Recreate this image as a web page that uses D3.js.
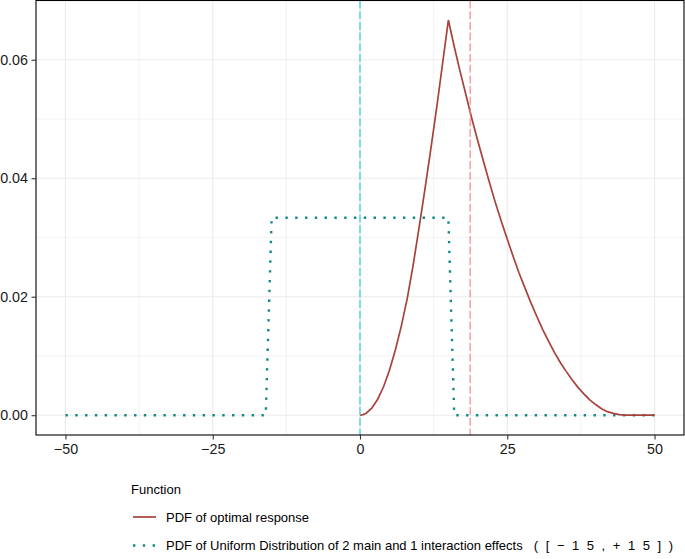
<!DOCTYPE html>
<html>
<head>
<meta charset="utf-8">
<script src="https://cdn.jsdelivr.net/npm/d3@7"></script>
<style>
  body { margin: 0; background: #fff; }
  text { font-family: "Liberation Sans", Arial, sans-serif; }
</style>
</head>
<body>
<div id="chart"></div>
<script>
// PDF of optimal response
var responseX = [0, 0.5, 1, 2, 3, 4, 5, 6, 7, 8, 9, 10, 11, 12, 13, 14, 15,
  16, 17, 18, 19, 20, 21, 22, 23, 24, 25, 26, 27, 28, 29, 30, 31, 32, 33, 34,
  35, 36, 37, 38, 39, 40, 41, 42, 43, 44, 45, 50];
var responseY = [0, 0.0001, 0.0003, 0.0012, 0.0027, 0.0048, 0.0076, 0.011, 0.015,
  0.0196, 0.0252, 0.0315, 0.038, 0.0448, 0.0518, 0.0592, 0.0667,
  0.0622, 0.058, 0.054, 0.050, 0.0463, 0.0427, 0.0392, 0.0358, 0.0327, 0.0297,
  0.0268, 0.0240, 0.0215, 0.0190, 0.0167, 0.0145, 0.0125, 0.0106, 0.0089,
  0.0074, 0.0060, 0.0047, 0.0036, 0.0026, 0.0018, 0.0011, 0.0006, 0.0003,
  0.0001, 0, 0];

// uniform pdf on [-15, 15]
var uniformX = [-50, -16, -15, 15, 16, 50];
var uniformY = [0, 0, 1 / 30, 1 / 30, 0, 0];

var vlines = [0, 18.7];
var xTicks = [-50, -25, 0, 25, 50];
var yTicks = [0, 0.02, 0.04, 0.06];
var legendLabels = [["PDF of optimal response", ""],
  ["PDF of Uniform Distribution of 2 main and 1 interaction effects", " ([\u221215,+15])"]];

var width = 685, height = 559;
var margin = {top: 0.5, right: 1, bottom: 124, left: 36};
var plotW = width - margin.left - margin.right;
var plotH = height - margin.top - margin.bottom;

var svg = d3.select("#chart").append("svg")
  .attr("width", width)
  .attr("height", height);
var plot = svg.append("g")
  .attr("transform", "translate(" + margin.left + "," + margin.top + ")");

var x = d3.scaleLinear().domain([-55, 55]).range([0, plotW]);
var y = d3.scaleLinear().domain([-0.00334, 0.0700]).range([plotH, 0]);

// grid
var minorX = [-37.5, -12.5, 12.5, 37.5], minorY = [0.01, 0.03, 0.05];
plot.append("g").selectAll("line").data(minorX).enter().append("line")
  .attr("x1", x).attr("x2", x).attr("y1", 0).attr("y2", plotH)
  .attr("stroke", "#ebebeb").attr("stroke-width", 0.6);
plot.append("g").selectAll("line").data(minorY).enter().append("line")
  .attr("y1", y).attr("y2", y).attr("x1", 0).attr("x2", plotW)
  .attr("stroke", "#ebebeb").attr("stroke-width", 0.6);
plot.append("g").selectAll("line").data(xTicks).enter().append("line")
  .attr("x1", x).attr("x2", x).attr("y1", 0).attr("y2", plotH)
  .attr("stroke", "#ebebeb").attr("stroke-width", 1.1);
plot.append("g").selectAll("line").data(yTicks).enter().append("line")
  .attr("y1", y).attr("y2", y).attr("x1", 0).attr("x2", plotW)
  .attr("stroke", "#ebebeb").attr("stroke-width", 1.1);

var line = d3.line()
  .x(function(d) { return x(d[0]); })
  .y(function(d) { return y(d[1]); });

// uniform distribution (dotted)
plot.append("path")
  .attr("d", line(d3.zip(uniformX, uniformY)))
  .attr("fill", "none")
  .attr("stroke", "#108a8a")
  .attr("stroke-width", 2.4)
  .attr("stroke-dasharray", "2.4 7.4");

// optimal response
plot.append("path")
  .attr("d", line(d3.zip(responseX, responseY)))
  .attr("fill", "none")
  .attr("stroke", "#a8423b")
  .attr("stroke-width", 1.7);

// vertical reference lines
plot.append("line")
  .attr("x1", x(vlines[0])).attr("x2", x(vlines[0]))
  .attr("y1", 0).attr("y2", plotH)
  .attr("stroke", "#1fc9d1").attr("stroke-width", 1.1)
  .attr("stroke-dasharray", "8 2.7");
plot.append("line")
  .attr("x1", x(vlines[1])).attr("x2", x(vlines[1]))
  .attr("y1", 0).attr("y2", plotH)
  .attr("stroke", "#ef8080").attr("stroke-width", 1.1)
  .attr("stroke-dasharray", "8 2.7");

// panel border
plot.append("rect")
  .attr("x", 0).attr("y", 0).attr("width", plotW).attr("height", plotH)
  .attr("fill", "none").attr("stroke", "#000").attr("stroke-width", 1.1);

// axes
var xAxis = plot.append("g")
  .attr("transform", "translate(0," + plotH + ")")
  .call(d3.axisBottom(x).tickValues(xTicks).tickSize(4.5).tickPadding(4)
    .tickFormat(function(d) { return d < 0 ? "\u2212" + Math.abs(d) : d; }));
var yAxis = plot.append("g")
  .call(d3.axisLeft(y).tickValues(yTicks).tickSize(4.5).tickPadding(3.5)
    .tickFormat(d3.format(".2f")));
[xAxis, yAxis].forEach(function(a) {
  a.select(".domain").remove();
  a.selectAll(".tick line").attr("stroke", "#333").attr("stroke-width", 1.1);
  a.selectAll(".tick text").attr("fill", "#1a1a1a").style("font-size", "14.3px")
    .style("font-family", "'Liberation Sans', Arial, sans-serif");
});

// legend
var legend = svg.append("g").attr("transform", "translate(131,0)");
legend.append("text")
  .attr("x", 0).attr("y", 494)
  .style("font-size", "13px").attr("fill", "#000")
  .text("Function");
var keys = legend.selectAll("g.key").data(legendLabels).enter().append("g")
  .attr("class", "key")
  .attr("transform", function(d, i) { return "translate(0," + (517 + i * 28.5) + ")"; });
keys.append("line")
  .attr("x1", 2).attr("x2", 25).attr("y1", 0).attr("y2", 0)
  .attr("stroke", function(d, i) { return i === 0 ? "#a8423b" : "#108a8a"; })
  .attr("stroke-width", function(d, i) { return i === 0 ? 1.7 : 2.4; })
  .attr("stroke-dasharray", function(d, i) { return i === 0 ? null : "2.4 7.4"; });
var labels = keys.append("text")
  .attr("x", 35).attr("y", 0).attr("dy", "0.35em")
  .style("font-size", "13px").attr("fill", "#000");
labels.append("tspan").attr("class", "main").text(function(d) { return d[0]; });
labels.append("tspan").attr("class", "range").text(function(d) { return d[1]; });
// the bracketed range is set wider in the original (ends near x = 673)
labels.each(function(d) {
  if (!d[1]) return;
  var mainW = d3.select(this).select(".main").node().getComputedTextLength();
  d3.select(this).select(".range")
    .attr("textLength", 673 - 131 - 35 - mainW)
    .attr("lengthAdjust", "spacing");
});
</script>
</body>
</html>
